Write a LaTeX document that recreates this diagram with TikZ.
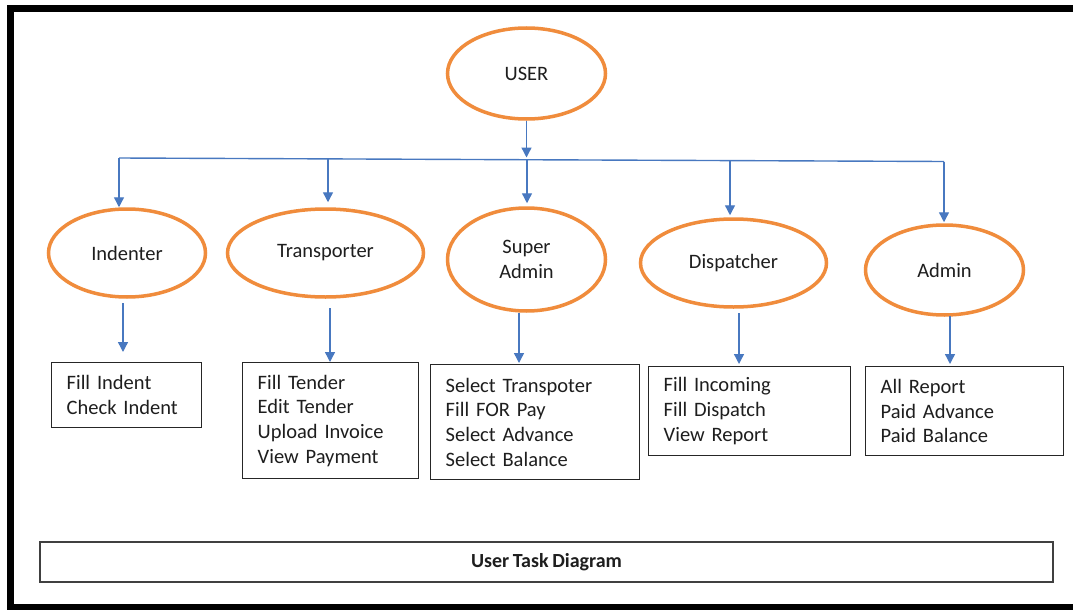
\documentclass[tikz,border=0pt]{standalone}
\usepackage{fontspec}
\setmainfont{Carlito}[WordSpace=0.8]
\usetikzlibrary{shapes.geometric,arrows.meta}
\definecolor{ellorange}{RGB}{240,140,60}
\definecolor{arrblue}{RGB}{72,120,192}
\definecolor{txt}{RGB}{30,30,30}
\begin{document}
\begin{tikzpicture}[x=1pt,y=-1pt,
  role/.style={ellipse,draw=ellorange,line width=3.5pt,inner sep=0pt,font=\fontsize{20.5}{24.7}\selectfont,text=txt,align=center},
  taskbox/.style={draw=black!85,line width=1.4pt,anchor=north west,inner xsep=15pt,inner ysep=0pt,align=left,font=\fontsize{20.5}{24.7}\selectfont,text=txt},
  arr/.style={draw=arrblue,line width=1.4pt,-{Triangle[length=10pt,width=10pt]}},
  bus/.style={draw=arrblue,line width=1.4pt}]
\useasboundingbox (0,0) rectangle (1073,610);
\fill[white] (0,0) rectangle (1073,610);
\draw[line width=7pt,line cap=butt] (1073,8.5) -- (10,8.5) -- (10,607) -- (1073,607);

% role ellipses
\node[role,minimum width=158pt,minimum height=91pt] (user) at (526.5,73.5) {USER};
\node[role,minimum width=157pt,minimum height=88pt] (ind) at (127,253) {Indenter};
\node[role,minimum width=196pt,minimum height=88pt] (trans) at (325.5,253) {Transporter};
\node[role,minimum width=158pt,minimum height=103pt] (sa) at (526.5,259.5) {Super\\Admin};
\node[role,minimum width=186pt,minimum height=88pt] (disp) at (733.5,263) {Dispatcher};
\node[role,minimum width=158pt,minimum height=90pt] (adm) at (944.5,270) {Admin};

% task boxes
\node[taskbox,text width=120pt,minimum height=65pt] (box1) at (51,362) {Fill Indent\\Check Indent};
\node[taskbox,text width=146pt,minimum height=116pt] (box2) at (242,362) {Fill Tender\\Edit Tender\\Upload Invoice\\View Payment};
\node[taskbox,text width=179pt,minimum height=115pt] (box3) at (430,364) {Select Transpoter\\Fill FOR Pay\\Select Advance\\Select Balance};
\node[taskbox,text width=172pt,minimum height=89pt] (box4) at (648,366) {Fill Incoming\\Fill Dispatch\\View Report};
\node[taskbox,text width=168pt,minimum height=89pt] (box5) at (865,366) {All Report\\Paid Advance\\Paid Balance};

% title
\node[draw=black!75,line width=2pt,minimum width=1013pt,minimum height=40pt,inner sep=0pt,text=txt,font=\bfseries\fontsize{20}{24}\selectfont] (title) at (546.5,562) {User Task Diagram};

% bus from USER
\coordinate (j0) at (526,157.5);
\coordinate (b1) at (119,158);
\coordinate (b2) at (328,159);
\coordinate (b3) at (527,160);
\coordinate (b4) at (730,160.5);
\coordinate (b5) at (944,161.5);
\draw[arr] (user.south) -- (user.south |- j0);
\draw[bus] (b1) -- (b5);
\draw[arr] (b1) -- (b1 |- ind.north);
\draw[arr,shorten >=5pt] (b2) -- (b2 |- trans.north);
\draw[arr,shorten >=3pt] (b3) -- (b3 |- sa.north);
\draw[arr,shorten >=2pt] (b4) -- (b4 |- disp.north);
\draw[arr,shorten >=1pt] (b5) -- (b5 |- adm.north);

% role to tasks
\coordinate (d1) at (123,303);
\coordinate (d2) at (330,308);
\coordinate (d3) at (519,313);
\coordinate (d4) at (739,313);
\coordinate (d5) at (950,316);
\draw[arr,shorten >=10pt] (d1) -- (d1 |- box1.north);
\draw[arr] (d2) -- (d2 |- box2.north);
\draw[arr,shorten >=1pt] (d3) -- (d3 |- box3.north);
\draw[arr,shorten >=2pt] (d4) -- (d4 |- box4.north);
\draw[arr,shorten >=2pt] (d5) -- (d5 |- box5.north);
\end{tikzpicture}
\end{document}
